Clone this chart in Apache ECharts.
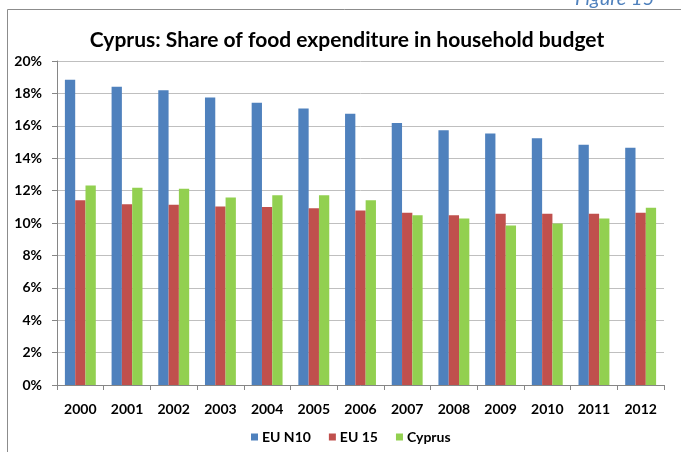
<!DOCTYPE html>
<html>
<head>
<meta charset="utf-8">
<script src="https://cdn.jsdelivr.net/npm/echarts@6/dist/echarts.min.js"></script>
<style>
html,body{margin:0;padding:0;background:#fff;}
#chart{width:681px;height:452px;}
</style>
</head>
<body>
<div id="chart"></div>
<script>
var categories = ['2000','2001','2002','2003','2004','2005','2006','2007','2008','2009','2010','2011','2012'];
var euN10 = [18.85, 18.41, 18.20, 17.75, 17.42, 17.07, 16.74, 16.18, 15.73, 15.52, 15.23, 14.83, 14.64];
var eu15 = [11.41, 11.16, 11.12, 11.02, 10.98, 10.91, 10.77, 10.63, 10.48, 10.57, 10.57, 10.57, 10.63];
var cyprus = [12.31, 12.17, 12.11, 11.57, 11.72, 11.72, 11.41, 10.48, 10.28, 9.85, 9.97, 10.28, 10.94];
var seriesNames = ['EU N10', 'EU 15', 'Cyprus'];
var titleText = 'Cyprus: Share of food expenditure in household budget';
var figureText = 'Figure 15';

var chart = echarts.init(document.getElementById('chart'), null, {renderer: 'canvas'});
var FONT = 'Lato, "Open Sans", sans-serif';
function bar(name, data, color) {
  return {
    name: name, type: 'bar', data: data, barWidth: 10.3, barGap: '0%',
    itemStyle: {color: color}
  };
}
chart.setOption({
  animation: false,
  backgroundColor: '#ffffff',
  graphic: [
    {type: 'rect', shape: {x: 7.5, y: 9.5, width: 700, height: 500}, style: {fill: 'none', stroke: '#8c8c8c', lineWidth: 1}, z: -1},
    {type: 'text', style: {text: figureText, x: 575, y: 9, font: 'italic 20px ' + FONT, fill: '#4F81BD', verticalAlign: 'bottom', align: 'left'}},
    {type: 'text', style: {text: titleText, x: 347, y: 40, font: 'bold 21px ' + FONT, fill: '#000', align: 'center', verticalAlign: 'middle'}}
  ],
  legend: {
    data: seriesNames,
    left: 246, top: 425,
    itemWidth: 7, itemHeight: 7, itemGap: 18,
    icon: 'rect',
    textStyle: {fontFamily: FONT, fontWeight: 'bold', fontSize: 14, color: '#000', padding: [0,0,0,-1]}
  },
  grid: {left: 57, right: 17, top: 61, bottom: 67, containLabel: false},
  xAxis: {
    type: 'category', data: categories,
    axisLine: {lineStyle: {color: '#868686'}},
    axisTick: {show: true, length: 5, alignWithLabel: false, lineStyle: {color: '#868686'}},
    axisLabel: {fontFamily: FONT, fontWeight: 'bold', fontSize: 14, color: '#000', margin: 17}
  },
  yAxis: {
    type: 'value', min: 0, max: 20, interval: 2,
    axisLine: {show: true, lineStyle: {color: '#868686'}},
    axisTick: {show: true, length: 5, lineStyle: {color: '#868686'}},
    splitLine: {lineStyle: {color: '#bfbfbf', width: 1}},
    axisLabel: {fontFamily: FONT, fontWeight: 'bold', fontSize: 14, color: '#000', margin: 15, formatter: '{value}%'}
  },
  series: [
    bar(seriesNames[0], euN10, '#4F81BD'),
    bar(seriesNames[1], eu15, '#C0504D'),
    bar(seriesNames[2], cyprus, '#92D050')
  ]
});
</script>
</body>
</html>
